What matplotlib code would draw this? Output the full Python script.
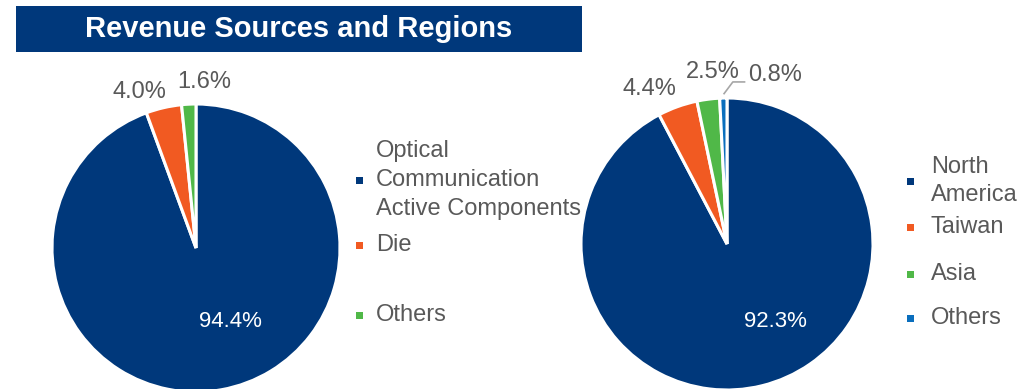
import matplotlib.pyplot as plt
from matplotlib.patches import Rectangle

plt.rcParams['font.family'] = ['Liberation Sans', 'DejaVu Sans']

title = 'Revenue Sources and Regions'

source_labels = ['Optical\nCommunication\nActive Components', 'Die', 'Others']
source_share = [94.4, 4.0, 1.6]
source_colors = ['#00387B', '#F15A22', '#50B848']

region_labels = ['North\nAmerica', 'Taiwan', 'Asia', 'Others']
region_share = [92.3, 4.4, 2.5, 0.8]
region_colors = ['#00387B', '#F15A22', '#50B848', '#0A6EBD']

GREY = '#595959'
W, H = 1020, 389

fig = plt.figure(figsize=(W / 100, H / 100), dpi=100)


def px_box(cx, cy, r):
    # square axes around a pie centre given in pixels from the top-left
    return [(cx - r) / W, (H - cy - r) / H, 2 * r / W, 2 * r / H]


def draw_pie(cx, cy, r, values, colors, label_pos):
    ax = fig.add_axes(px_box(cx, cy, r))
    ax.pie(values, colors=colors, startangle=90, counterclock=False,
           wedgeprops=dict(edgecolor='white', linewidth=2.2))
    ax.set_xlim(-1, 1)
    ax.set_ylim(-1, 1)
    ax.set_aspect('equal', adjustable='box')
    ax.axis('off')
    for i, (v, (x, y)) in enumerate(zip(values, label_pos)):
        ax.text(x, y, f'{v:.1f}%', ha='center', va='center',
                color='white' if i == 0 else GREY,
                fontsize=16 if i == 0 else 17, clip_on=False)
    return ax


def draw_legend(x_mark, x_text, ys, labels, colors, spacing):
    for y, lab, c in zip(ys, labels, colors):
        fig.patches.append(Rectangle(((x_mark - 3.5) / W, (H - y - 3.5) / H),
                                     7 / W, 7 / H, transform=fig.transFigure,
                                     facecolor=c, edgecolor='none'))
        fig.text(x_text / W, (H - y) / H, lab, ha='left', va='center',
                 color=GREY, fontsize=17, linespacing=spacing)


# title banner
fig.patches.append(Rectangle((16 / W, (H - 52) / H), 566 / W, 46 / H,
                             transform=fig.transFigure,
                             facecolor='#00387B', edgecolor='none'))
fig.text(299 / W, (H - 29) / H, title, ha='center', va='center',
         color='white', fontsize=21, fontweight='bold')

# revenue by source
draw_pie(196, 248, 144, source_share, source_colors,
         [(0.24, -0.51), (-0.39, 1.08), (0.06, 1.15)])
draw_legend(359.5, 376, [180, 245, 315], source_labels, source_colors, 1.42)

# revenue by region
ax2 = draw_pie(727, 244, 146, region_share, region_colors,
               [(0.33, -0.53), (-0.53, 1.06), (-0.10, 1.18), (0.33, 1.16)])
ax2.plot([-0.02, 0.04, 0.12], [1.03, 1.11, 1.11], color='#A6A6A6',
         linewidth=1.2, clip_on=False)
draw_legend(910.5, 931, [181, 227, 274, 318], region_labels, region_colors,
            1.32)

fig.savefig('out.png', dpi=100)
